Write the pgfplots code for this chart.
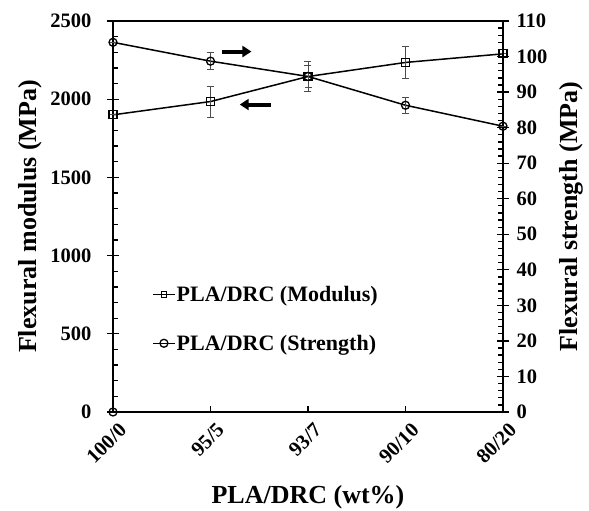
\documentclass[border=0pt]{standalone}
\usepackage{fontspec}
\setmainfont{Liberation Serif}
\usepackage{pgfplots}
\pgfplotsset{compat=1.18}
\usetikzlibrary{arrows.meta}

\begin{document}
\begin{tikzpicture}
\useasboundingbox (-113pt,-99pt) rectangle (476pt,412pt);
\pgfplotsset{
  every axis/.append style={
    width=390pt, height=391pt, scale only axis,
    at={(0pt,0pt)}, anchor=south west,
    xmin=0, xmax=4, clip=false,
    /pgf/number format/assume math mode=true,
    /pgf/number format/1000 sep={},
    tick label style={font=\fontsize{20.5}{21}\selectfont\bfseries},
    label style={font=\fontsize{26}{28}\selectfont\bfseries},
    axis line style={line width=1.8pt},
    every tick/.style={black, line width=1.3pt},
    major tick length=6pt, minor tick length=5pt,
    tick align=inside,
    legend image code/.code={\draw[mark repeat=2, mark phase=2, ##1]
      plot coordinates {(0pt,0pt) (11pt,0pt) (22pt,0pt)};},
  },
  ebar/.style={error bars/.cd, y dir=both, y explicit,
    error bar style={line width=0.7pt, black!70},
    error mark options={rotate=90, mark size=3.5pt, line width=0.7pt, black!70}},
}
% left axis: flexural modulus
\begin{axis}[
  ymin=0, ymax=2500,
  ytick={0,500,...,2500}, minor y tick num=4,
  yticklabels={},
  extra y ticks={0,500,1000,1500,2000,2500},
  extra y tick style={tick align=outside,
    yticklabel style={xshift=-12pt}},
  ytick pos=left, xtick pos=bottom,
  xtick={0,1,2,3,4},
  xticklabels={100/0,95/5,93/7,90/10,80/20},
  x tick label style={rotate=45, anchor=north east, yshift=-7pt},
  ylabel={Flexural modulus (MPa)},
  ylabel style={yshift=2pt},
  xlabel={PLA/DRC (wt\%)},
  xlabel style={yshift=-12pt},
]
\addplot[black, line width=1.5pt, mark=square, mark size=4pt,
  mark options={solid, line width=1.3pt}, ebar]
  coordinates {(0,1900) +- (0,0) (1,1985) +- (0,100) (2,2145) +- (0,95) (3,2235) +- (0,100) (4,2290) +- (0,0)};
\end{axis}
% right axis: flexural strength
\begin{axis}[
  ymin=0, ymax=110,
  axis x line=none, axis y line*=right,
  ytick={0,10,...,110}, minor y tick num=4,
  yticklabels={},
  extra y ticks={0,10,20,30,40,50,60,70,80,90,100,110},
  extra y tick style={tick align=outside,
    yticklabel style={xshift=4pt}},
  ylabel={Flexural strength (MPa)},
  ylabel style={yshift=-5pt},
  legend style={at={(axis description cs:0.1,0.325)}, anchor=north west,
    draw=none, fill=none, font=\fontsize{22}{24}\selectfont\bfseries,
    row sep=30pt, inner sep=0pt,
    nodes={inner sep=1pt}},
  legend cell align=left,
]
\addlegendimage{black, line width=1.4pt, mark=square, mark size=2.8pt, mark options={line width=1.2pt}}
\addlegendentry{PLA/DRC (Modulus)}
\addplot[black, line width=1.5pt, mark=o, mark size=4pt,
  mark options={solid, line width=1.3pt}, ebar]
  coordinates {(0,104.0) +- (0,0) (1,98.7) +- (0,2.4) (2,94.4) +- (0,3) (3,86.3) +- (0,2.2) (4,80.4) +- (0,0)};
\addlegendentry{PLA/DRC (Strength)}
\addplot[forget plot, only marks, mark=o, mark size=4pt, mark options={line width=1.3pt}]
  coordinates {(0,0)};
\draw[line width=4pt, -{Triangle[length=9pt, width=11pt]}] (axis cs:1.12,101.4) -- (axis cs:1.42,101.4);
\draw[line width=4pt, -{Triangle[length=9pt, width=11pt]}] (axis cs:1.62,86.5) -- (axis cs:1.30,86.5);
\end{axis}
\end{tikzpicture}
\end{document}
